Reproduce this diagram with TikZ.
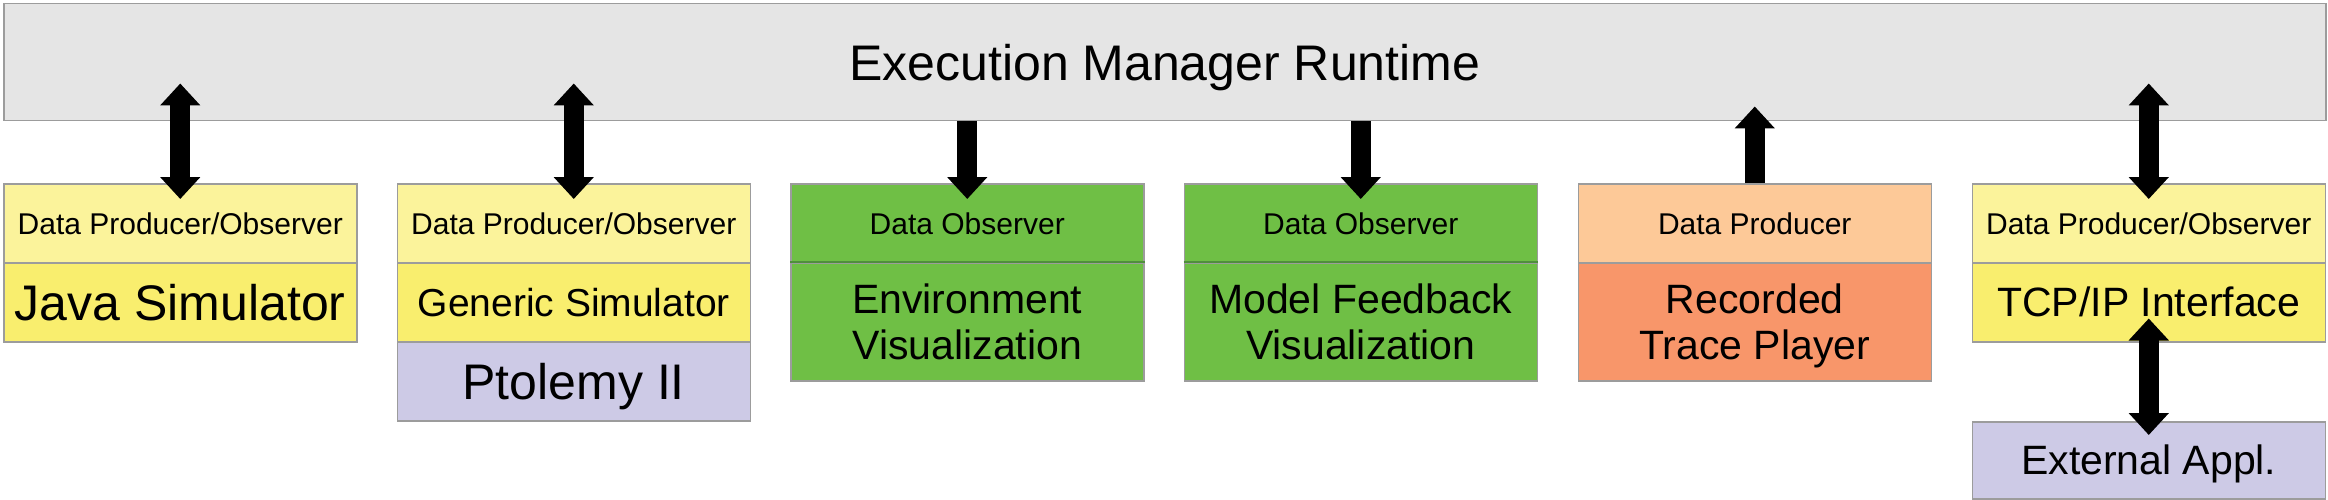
\documentclass[tikz,border=0pt]{standalone}
\usepackage{fontspec}
\setmainfont{Liberation Sans}
\usetikzlibrary{arrows.meta}
\definecolor{barfill}{HTML}{E5E5E5}
\definecolor{bordergray}{HTML}{9C9C9C}
\definecolor{ylight}{HTML}{FBF39B}
\definecolor{ymain}{HTML}{F9EE6E}
\definecolor{gmain}{HTML}{6FBF45}
\definecolor{gline}{HTML}{4F8F3C}
\definecolor{olight}{HTML}{FDC998}
\definecolor{omain}{HTML}{F8966A}
\definecolor{lav}{HTML}{CDCAE6}
\tikzset{
  cell/.style={draw=bordergray, line width=1.5pt, rectangle, inner sep=0pt,
    minimum width=353pt, minimum height=79pt, anchor=north west, align=center},
  small/.style={font=\fontsize{30}{34}\selectfont, text height=21.5pt, text depth=0pt},
  big/.style={font=\fontsize{50}{56}\selectfont, text height=35.8pt, text depth=0pt},
  mid/.style={font=\fontsize{41}{46}\selectfont, text height=29.4pt, text depth=0pt},
  two/.style={font=\fontsize{41}{46}\selectfont, minimum height=118pt},
  biarrow/.style={line width=20pt, {Triangle[width=39pt,length=22pt]}-{Triangle[width=39pt,length=22pt]}},
  onearrow/.style={line width=20pt, -{Triangle[width=39pt,length=22pt]}},
}
\begin{document}
\begin{tikzpicture}[x=1pt,y=-1pt]
\useasboundingbox (0,0) rectangle (2328,500);
% top bar
\node[draw=bordergray, line width=1.5pt, fill=barfill, rectangle, inner sep=0pt,
  minimum width=2322pt, minimum height=117pt, anchor=north west,
  font=\fontsize{50}{56}\selectfont, text height=35.8pt, text depth=0pt]
  (bar) at (3,3) {Execution Manager Runtime};
% column 1
\node[cell, small, fill=ylight] (javaTop) at (3,183) {Data Producer/Observer};
\node[cell, big, fill=ymain] (java) at (3,262) {Java Simulator};
% column 2
\node[cell, small, fill=ylight] (genTop) at (396.5,183) {Data Producer/Observer};
\node[cell, mid, font=\fontsize{39}{44}\selectfont, fill=ymain] (gen) at (396.5,262) {Generic Simulator};
\node[cell, big, fill=lav] (ptol) at (396.5,341) {Ptolemy II};
% column 3
\node[cell, small, draw=bordergray, fill=gmain] (envTop) at (790,183) {Data Observer};
\node[cell, two, fill=gmain] (env) at (790,262) {Environment\\Visualization};
% column 4
\node[cell, small, fill=gmain] (modTop) at (1183.5,183) {Data Observer};
\node[cell, two, fill=gmain] (mod) at (1183.5,262) {Model Feedback\\Visualization};
% green dividers
\draw[gline, line width=1.5pt] (env.north west) -- (env.north east);
\draw[gline, line width=1.5pt] (mod.north west) -- (mod.north east);
% column 5
\node[cell, small, fill=olight] (recTop) at (1577.5,183) {Data Producer};
\node[cell, two, fill=omain] (rec) at (1577.5,262) {Recorded\\Trace Pla\smash{y}er};
% column 6
\node[cell, small, fill=ylight] (tcpTop) at (1971.5,183) {Data Producer/Observer};
\node[cell, mid, fill=ymain] (tcp) at (1971.5,262) {TCP/IP Interface};
\node[cell, mid, fill=lav, minimum height=77pt] (ext) at (1971.5,421) {External Appl.};
% arrows
\draw[biarrow] ([yshift=38pt]bar.south -| javaTop.north) -- ([yshift=-16pt]javaTop.north);
\draw[biarrow] ([yshift=38pt]bar.south -| genTop.north) -- ([yshift=-16pt]genTop.north);
\draw[onearrow] (bar.south -| envTop.north) -- ([yshift=-16pt]envTop.north);
\draw[onearrow] (bar.south -| modTop.north) -- ([yshift=-16pt]modTop.north);
\draw[onearrow] (recTop.north) -- ([yshift=15pt]bar.south -| recTop.north);
\draw[biarrow] ([yshift=38pt]bar.south -| tcpTop.north) -- ([yshift=-16pt]tcpTop.north);
\draw[biarrow] ([yshift=24pt]tcp.south) -- ([yshift=-14pt]ext.north);
\end{tikzpicture}
\end{document}
